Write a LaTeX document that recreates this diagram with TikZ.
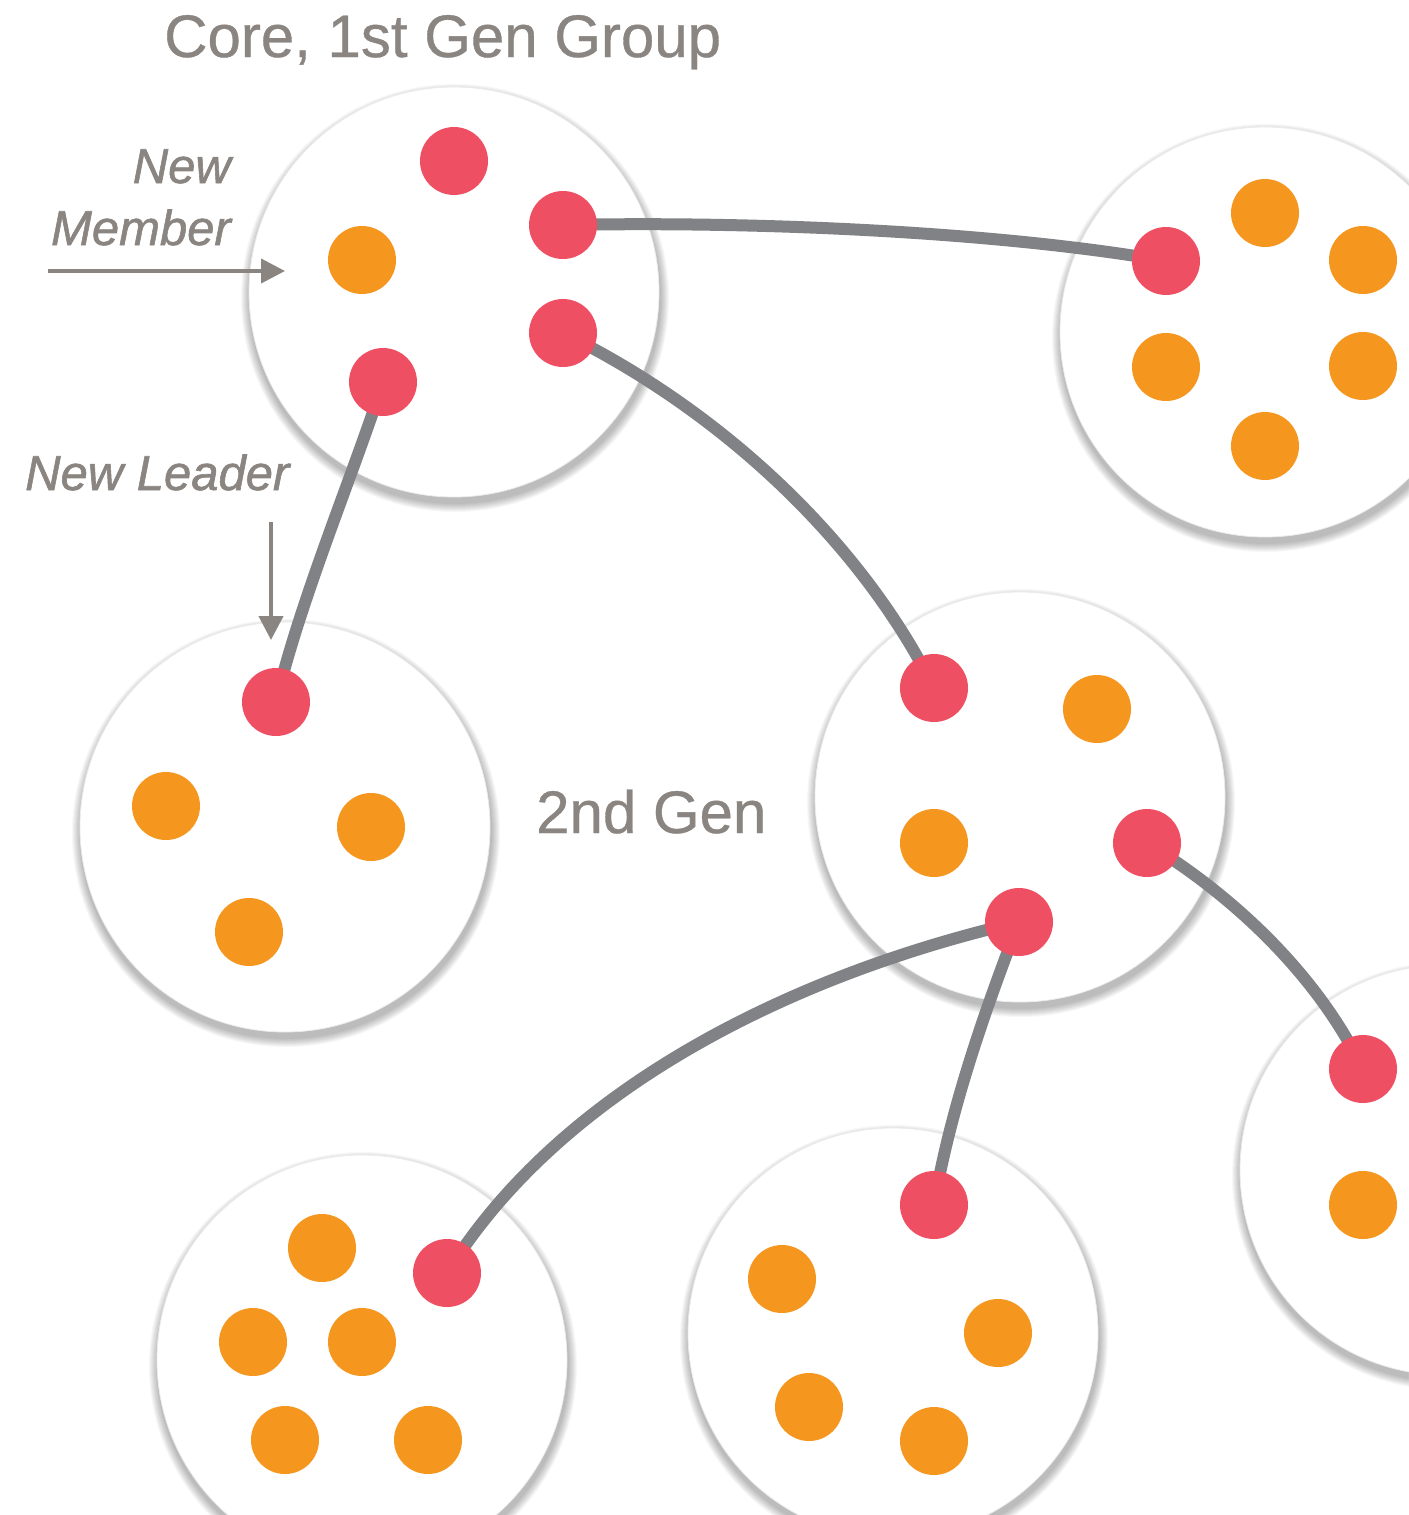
\documentclass[tikz,border=0pt]{standalone}
\usepackage{fontspec}
\setmainfont{Liberation Sans}
\newfontfamily\notefont[FakeBold=1.2]{Liberation Sans}
\newfontfamily\titlefont[FakeBold=0.6]{Liberation Sans}
\usetikzlibrary{arrows.meta}
\pgfdeclarelayer{bg}
\pgfdeclarelayer{mid}
\pgfsetlayers{bg,mid,main}
\definecolor{dotred}{HTML}{EF4F63}
\definecolor{dotorange}{HTML}{F5961E}
\definecolor{linkgray}{HTML}{808285}
\definecolor{textgray}{HTML}{8A8580}
\tikzset{
  grp/.style={circle, fill=white, draw=black!8, line width=0.8pt, minimum size=410pt, inner sep=0pt},
  rdot/.style={circle, fill=dotred, minimum size=68pt, inner sep=0pt},
  odot/.style={circle, fill=dotorange, minimum size=68pt, inner sep=0pt},
  link/.style={draw=linkgray, line width=12pt, line cap=round},
  note/.style={textgray, font=\notefont\fontsize{49}{60}\selectfont\itshape, inner sep=0pt},
  title/.style={textgray, font=\titlefont\fontsize{60}{72}\selectfont, inner sep=0pt},
  pointer/.style={draw=textgray, line width=4pt, -{Triangle[length=24pt,width=24pt]}},
}
\newcommand\grpcircle[3]{%
  \begin{pgfonlayer}{bg}
  \foreach \k in {0,...,8} {\fill[black,opacity=0.03] ({#2+1},{#3+6}) circle[radius={214pt-\k pt}];}
  \node[grp] (#1) at (#2,#3) {};
  \end{pgfonlayer}}
\begin{document}
\begin{tikzpicture}[x=1pt,y=-1pt]
\useasboundingbox (0,0) rectangle (1408,1515);
\begin{pgfonlayer}{bg}
\fill[white] (0,0) rectangle (1408,1515);
\end{pgfonlayer}
% group circles
\grpcircle{g1}{454}{292}
\grpcircle{g2}{1265}{332}
\grpcircle{g3}{285}{827}
\grpcircle{g4}{1020}{797}
\grpcircle{g5}{1445}{1170}
\grpcircle{g6}{362}{1360}
\grpcircle{g7}{893}{1333}
% core group
\node[rdot] (a1) at (454,161) {};
\node[rdot] (a2) at (563,225) {};
\node[odot] (a3) at (362,260) {};
\node[rdot] (a4) at (563,333) {};
\node[rdot] (a5) at (383,382) {};
% top right
\node[odot] (b1) at (1265,213) {};
\node[rdot] (b2) at (1166,261) {};
\node[odot] (b3) at (1363,260) {};
\node[odot] (b4) at (1166,367) {};
\node[odot] (b5) at (1363,366) {};
\node[odot] (b6) at (1265,446) {};
% left
\node[rdot] (c1) at (276,702) {};
\node[odot] (c2) at (166,806) {};
\node[odot] (c3) at (371,827) {};
\node[odot] (c4) at (249,932) {};
% middle
\node[rdot] (d1) at (934,688) {};
\node[odot] (d2) at (1097,709) {};
\node[odot] (d3) at (934,843) {};
\node[rdot] (d4) at (1147,843) {};
\node[rdot] (d5) at (1019,922) {};
% bottom right
\node[rdot] (e1) at (1363,1069) {};
\node[odot] (e2) at (1363,1205) {};
% bottom left
\node[odot] (f1) at (322,1248) {};
\node[rdot] (f2) at (447,1273) {};
\node[odot] (f3) at (253,1342) {};
\node[odot] (f4) at (362,1342) {};
\node[odot] (f5) at (285,1440) {};
\node[odot] (f6) at (428,1440) {};
% bottom middle
\node[rdot] (h1) at (934,1205) {};
\node[odot] (h2) at (782,1279) {};
\node[odot] (h3) at (998,1333) {};
\node[odot] (h4) at (809,1407) {};
\node[odot] (h5) at (934,1441) {};
% connectors
\begin{pgfonlayer}{mid}
\draw[link] (a2.center) .. controls (760,221) and (1000,232) .. (b2.center);
\draw[link] (a4.center) .. controls (720,410) and (860,540) .. (d1.center);
\draw[link] (a5.center) .. controls (355,470) and (300,600) .. (c1.center);
\draw[link] (d5.center) .. controls (790,975) and (560,1090) .. (f2.center);
\draw[link] (d5.center) .. controls (985,1010) and (950,1110) .. (h1.center);
\draw[link] (d4.center) .. controls (1240,900) and (1320,980) .. (e1.center);
\end{pgfonlayer}
% labels
\node[title, anchor=base west] (t1) at (164,57) {Core, 1st Gen Group};
\node[title, anchor=base west] (t2) at (536,833) {2nd Gen};
\node[note, anchor=base east] (t3) at (231,183) {New};
\node[note, anchor=base east] (t4) at (231,245) {Member};
\node[note, anchor=base west] (t5) at (25,490) {New Leader};
\coordinate (m0) at (48,271);
\coordinate (m1) at (285,271);
\coordinate (l0) at (271,522);
\coordinate (l1) at (271,640);
\draw[pointer] (m0) -- (m1);
\draw[pointer] (l0) -- (l1);
\end{tikzpicture}
\end{document}
